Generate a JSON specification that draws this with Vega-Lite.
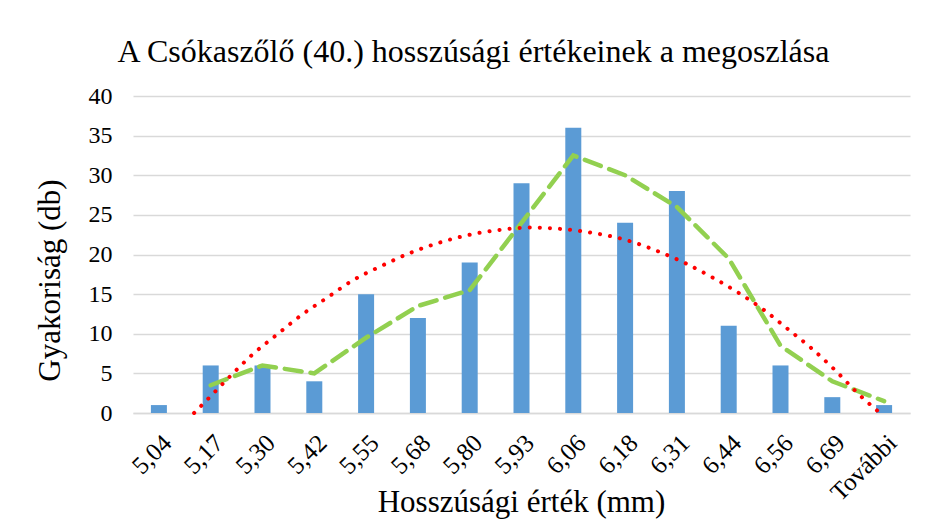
{
  "$schema": "https://vega.github.io/schema/vega-lite/v6.json",
  "autosize": {"type": "none"},
  "width": 777,
  "height": 317,
  "padding": {"left": 133, "top": 96, "right": 17, "bottom": 109},
  "background": "white",
  "config": {
    "font": "Liberation Serif",
    "view": {"stroke": null},
    "title": {"font": "Liberation Serif"},
    "axis": {"labelFont": "Liberation Serif", "titleFont": "Liberation Serif", "labelColor": "black", "titleColor": "black", "titleFontWeight": "normal", "titleFontSize": 31, "labelFontSize": 24, "ticks": false, "labelOverlap": false},
    "axisX": {"labelAngle": -45, "labelPadding": 17, "labelFontSize": 25, "domainColor": "#D9D9D9", "domainWidth": 1.5, "grid": false, "titleX": 388, "titleY": 89, "titleBaseline": "middle"},
    "axisY": {"labelPadding": 21, "domain": false, "grid": true, "gridColor": "#D9D9D9", "gridWidth": 1.5, "titleAngle": -90, "titleX": -83, "titleY": 184, "titleAlign": "center", "titleBaseline": "middle"}
  },
  "title": {
    "text": "A Csókaszőlő (40.) hosszúsági értékeinek a megoszlása",
    "fontSize": 32,
    "fontWeight": "normal",
    "color": "black",
    "anchor": "middle",
    "frame": "group",
    "dx": -48,
    "offset": 15
  },
  "datasets": {
    "bins": [
      {"cat": "5,04", "count": 1, "ma": null},
      {"cat": "5,17", "count": 6, "ma": 3.5},
      {"cat": "5,30", "count": 6, "ma": 6},
      {"cat": "5,42", "count": 4, "ma": 5},
      {"cat": "5,55", "count": 15, "ma": 9.5},
      {"cat": "5,68", "count": 12, "ma": 13.5},
      {"cat": "5,80", "count": 19, "ma": 15.5},
      {"cat": "5,93", "count": 29, "ma": 24},
      {"cat": "6,06", "count": 36, "ma": 32.5},
      {"cat": "6,18", "count": 24, "ma": 30},
      {"cat": "6,31", "count": 28, "ma": 26},
      {"cat": "6,44", "count": 11, "ma": 19.5},
      {"cat": "6,56", "count": 6, "ma": 8.5},
      {"cat": "6,69", "count": 2, "ma": 4},
      {"cat": "További", "count": 1, "ma": 1.5}
    ],
    "trend": [
      {"pos": 0.68, "v": 0},
      {"pos": 0.95, "v": 1.8},
      {"pos": 1.37, "v": 4.6},
      {"pos": 1.81, "v": 7.4},
      {"pos": 2.28, "v": 9.9},
      {"pos": 2.76, "v": 12.4},
      {"pos": 3.26, "v": 14.6},
      {"pos": 3.76, "v": 16.8},
      {"pos": 4.31, "v": 18.6},
      {"pos": 4.85, "v": 20.2},
      {"pos": 5.42, "v": 21.5},
      {"pos": 6.0, "v": 22.5},
      {"pos": 6.58, "v": 23.1},
      {"pos": 7.2, "v": 23.4},
      {"pos": 7.8, "v": 23.2},
      {"pos": 8.4, "v": 22.7},
      {"pos": 8.98, "v": 21.9},
      {"pos": 9.56, "v": 20.6},
      {"pos": 10.1, "v": 19.1},
      {"pos": 10.66, "v": 17.2},
      {"pos": 11.18, "v": 15.2},
      {"pos": 11.68, "v": 13.0},
      {"pos": 12.14, "v": 10.6},
      {"pos": 12.61, "v": 8.1},
      {"pos": 13.07, "v": 5.3},
      {"pos": 13.49, "v": 2.5},
      {"pos": 13.92, "v": 0}
    ]
  },
  "layer": [
    {
      "data": {"name": "bins"},
      "encoding": {
        "x": {
          "field": "cat", "type": "nominal", "sort": null,
          "scale": {"paddingInner": 0, "paddingOuter": 0},
          "axis": {"title": "Hosszúsági érték (mm)"}
        }
      },
      "layer": [
        {
          "mark": {"type": "bar", "width": 16, "color": "#5B9BD5"},
          "encoding": {
            "y": {
              "field": "count", "type": "quantitative",
              "scale": {"domain": [0, 40], "nice": false},
              "axis": {"title": "Gyakoriság (db)", "values": [0, 5, 10, 15, 20, 25, 30, 35, 40]}
            }
          }
        },
        {
          "mark": {"type": "line", "color": "#92D050", "strokeWidth": 4.5, "strokeDash": [17, 9], "strokeCap": "round"},
          "encoding": {
            "y": {"field": "ma", "type": "quantitative", "axis": {"title": "Gyakoriság (db)", "values": [0, 5, 10, 15, 20, 25, 30, 35, 40]}}
          }
        }
      ]
    },
    {
      "data": {"name": "trend"},
      "mark": {"type": "line", "color": "#FF0000", "strokeWidth": 4, "strokeDash": [0.1, 10], "strokeCap": "round", "interpolate": "monotone"},
      "encoding": {
        "x": {"field": "pos", "type": "quantitative", "scale": {"domain": [-0.5, 14.5], "nice": false, "zero": false}, "axis": null},
        "y": {"field": "v", "type": "quantitative", "axis": {"title": "Gyakoriság (db)", "values": [0, 5, 10, 15, 20, 25, 30, 35, 40]}}
      }
    }
  ],
  "resolve": {"scale": {"x": "independent"}}
}
